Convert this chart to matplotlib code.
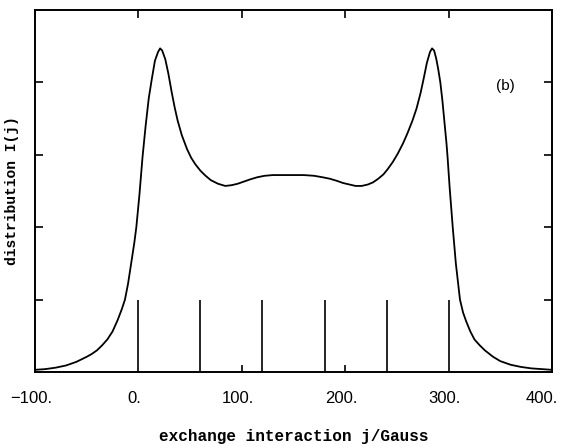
import matplotlib
matplotlib.use('Agg')
import matplotlib.pyplot as plt
from matplotlib.transforms import ScaledTranslation

# distribution curve (j in Gauss, I in tick units)
j_curve = [-100, -90, -80, -70, -60, -50, -45, -40, -35, -30, -25, -20, -16,
           -13, -10, -7, -4, -2, 1, 4, 7, 10, 13, 16, 19, 21, 23, 26, 29, 32,
           35, 38, 42, 47, 51, 55, 60, 65, 70, 77, 84, 90, 96, 102, 108, 115,
           122, 130, 140, 150, 160, 170, 178, 185, 192, 198, 204, 210, 216,
           222, 227, 232, 237, 241, 246, 251, 256, 260, 265, 269, 273, 276,
           279, 282, 284, 286, 288, 290, 292, 294, 296, 298, 299, 301, 304,
           307, 311, 314, 317, 321, 325, 330, 335, 343, 350, 360, 370, 380,
           390, 400]
i_curve = [0.03, 0.04, 0.06, 0.09, 0.14, 0.21, 0.25, 0.30, 0.37, 0.45, 0.56,
           0.72, 0.87, 1.0, 1.22, 1.5, 1.78, 2.0, 2.45, 2.97, 3.40, 3.78, 4.05,
           4.30, 4.42, 4.47, 4.44, 4.32, 4.12, 3.88, 3.66, 3.47, 3.27, 3.08,
           2.96, 2.87, 2.78, 2.71, 2.65, 2.60, 2.57, 2.58, 2.60, 2.63, 2.66,
           2.69, 2.71, 2.72, 2.72, 2.72, 2.72, 2.71, 2.69, 2.67, 2.64, 2.61,
           2.59, 2.57, 2.57, 2.59, 2.62, 2.67, 2.73, 2.80, 2.90, 3.02, 3.16,
           3.29, 3.47, 3.64, 3.86, 4.06, 4.27, 4.42, 4.47, 4.44, 4.33, 4.18,
           4.0, 3.75, 3.45, 3.15, 2.97, 2.55, 2.0, 1.5, 1.0, 0.82, 0.70, 0.56,
           0.45, 0.37, 0.30, 0.21, 0.15, 0.10, 0.07, 0.05, 0.04, 0.03]

# stick spectrum
stick_j = [0, 60, 120, 180, 240, 300]
stick_h = [1.0, 1.0, 1.0, 1.0, 1.0, 1.0]
small_j = [100, 200]
small_h = [0.1, 0.1]

xticks = [-100, 0, 100, 200, 300, 400]
xtick_labels = ['\u2212100.', '0.', '100.', '200.', '300.', '400.']
yticks = [1, 2, 3, 4]

fig = plt.figure(figsize=(5.65, 4.48), dpi=100)
ax = fig.add_axes([35 / 565, 76 / 448, 517 / 565, 362 / 448])

ax.plot(j_curve, i_curve, color='black', lw=1.3)
ax.vlines(stick_j, 0, stick_h, color='black', lw=1.2)
ax.vlines(small_j, 0, small_h, color='black', lw=1.2)

ax.set_xlim(-100, 400)
ax.set_ylim(0, 5)

ax.set_xticks(xticks, xtick_labels, fontfamily='Liberation Sans', fontsize=12)
ax.set_yticks(yticks, [])
ax.tick_params(axis='x', top=True, direction='in', length=6, width=1.2, pad=14)
ax.tick_params(axis='y', right=True, direction='in', length=6, width=1.2)
for t in ax.xaxis.get_major_ticks():
    t.tick1line.set_visible(False)
# labels sit a little left of their ticks in the original
for lab, dx in zip(ax.get_xticklabels(), [-4, -4, -4, -4, -4, -10]):
    lab.set_transform(lab.get_transform() + ScaledTranslation(dx / 100, 0, fig.dpi_scale_trans))
for s in ax.spines.values():
    s.set_linewidth(1.4)

ax.set_xlabel('exchange interaction j/Gauss', fontfamily='Liberation Mono',
              fontweight='bold', fontsize=11.5, labelpad=16)
ax.set_ylabel('distribution I(j)', fontfamily='Liberation Mono',
              fontweight='bold', fontsize=10.5, labelpad=8)

ax.text(355, 3.95, '(b)', fontfamily='Liberation Sans', fontsize=11,
        ha='center', va='center')

fig.savefig('out.png', dpi=100)
